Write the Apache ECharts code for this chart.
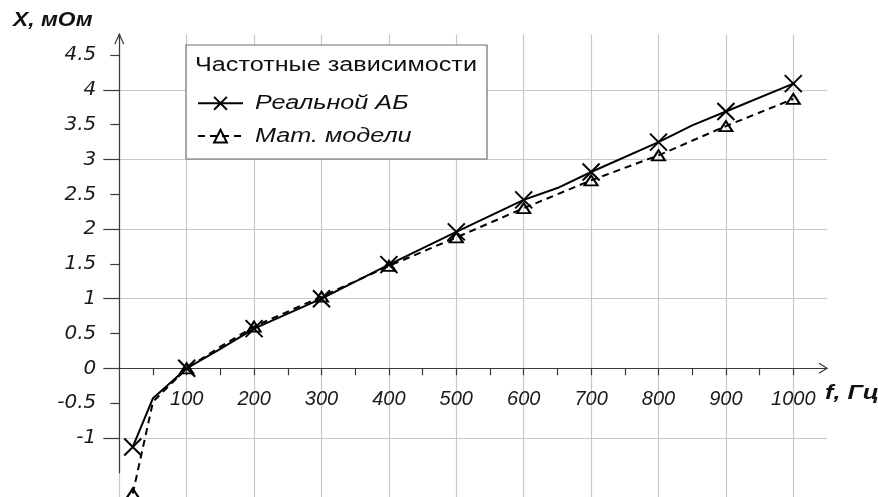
<!DOCTYPE html>
<html><head><meta charset="utf-8">
<script src="https://cdn.jsdelivr.net/npm/echarts@6/dist/echarts.min.js"></script>
<style>html,body{margin:0;padding:0;background:#fff}#c{width:878px;height:497px}</style>
</head><body><div id="c"></div>
<script>
// ---- data ----
const seriesNames = ['Реальной АБ', 'Мат. модели'];
const legendTitle = 'Частотные зависимости';
const yName = 'X, мОм';
const xName = 'f, Гц';
const freqReal = [20, 50, 100, 150, 200, 300, 400, 500, 600, 650, 700, 800, 850, 900, 1000];
const xReal    = [-1.13, -0.43, 0, 0.28, 0.57, 1.0, 1.49, 1.96, 2.42, 2.59, 2.82, 3.25, 3.49, 3.69, 4.09];
const freqModel = [20, 50, 100, 150, 200, 300, 400, 500, 600, 700, 800, 900, 1000];
const xModel    = [-1.8, -0.48, 0, 0.31, 0.6, 1.03, 1.47, 1.88, 2.3, 2.7, 3.06, 3.48, 3.87];
const markedFreqs = [20, 100, 200, 300, 400, 500, 600, 700, 800, 900, 1000];
const xTickLabels = [100, 200, 300, 400, 500, 600, 700, 800, 900, 1000];
const xMinorTicks = [50, 100, 150, 200, 250, 300, 350, 400, 450, 500, 550, 600, 650, 700, 750, 800, 850, 900, 950, 1000];
const yTickLabels = [-1, -0.5, 0, 0.5, 1, 1.5, 2, 2.5, 3, 3.5, 4, 4.5];
const yHalfTicks = [-0.5, 0.5, 1.5, 2.5, 3.5, 4.5];

// ---- layout ----
const W = 878, H = 497;
const X0 = 119.3, PXX = 0.674;      // px per Hz
const Y0 = 368.3, PXY = 69.6;       // px per unit
const px = f => X0 + f * PXX;
const py = v => Y0 - v * PXY;

const FONT = "'Liberation Sans', Arial, sans-serif";
const AX = '#3a3a3a', GRID = '#c8c8c8';

function build(freqs, vals) {
  return freqs.map((f, i) => markedFreqs.includes(f)
    ? { value: [f, vals[i]] }
    : { value: [f, vals[i]], symbol: 'none' });
}
const gb = { outerBoundsMode: 'none', containLabel: false };
const hidden = { axisLine: { show: false }, axisTick: { show: false }, axisLabel: { show: false }, splitLine: { show: false } };

const chart = echarts.init(document.getElementById('c'), null, { renderer: 'canvas' });
const option = {
  backgroundColor: '#fff',
  animation: false,
  grid: [
    // 0: plotting area (series + y axis)
    Object.assign({ left: X0, right: W - px(1050), top: py(4.8), bottom: H - py(-1.5) }, gb),
    // 1: vertical grid lines
    Object.assign({ left: X0, width: px(1000) - X0, top: py(4.8), bottom: 0 }, gb),
    // 2: horizontal grid lines + long ticks
    Object.assign({ left: X0, right: W - px(1050), top: py(4), height: py(-2) - py(4) }, gb),
    // 3: x axis drawn at y = 0
    Object.assign({ left: X0, right: W - px(1050), top: py(4.8), bottom: H - Y0 }, gb)
  ],
  xAxis: [
    Object.assign({ gridIndex: 0, type: 'value', min: 0, max: 1050 }, hidden),
    Object.assign({ gridIndex: 1, type: 'value', min: 0, max: 1000, interval: 100 }, hidden,
      { splitLine: { show: true, lineStyle: { color: GRID, width: 1.2 } } }),
    Object.assign({ gridIndex: 2, type: 'value', min: 0, max: 1050 }, hidden),
    { gridIndex: 3, type: 'value', min: 0, max: 1050, interval: 50,
      axisLine: { show: true, onZero: false, lineStyle: { color: AX, width: 1.2 } },
      axisTick: { show: true, length: 7, customValues: xMinorTicks, lineStyle: { color: AX, width: 1.2 } },
      axisLabel: { customValues: xTickLabels, formatter: v => String(v), margin: 21, fontSize: 20,
        fontStyle: 'italic', fontFamily: FONT, color: '#1a1a1a' },
      splitLine: { show: false } }
  ],
  yAxis: [
    { gridIndex: 0, type: 'value', min: -1.5, max: 4.8, interval: 0.5,
      axisLine: { show: true, onZero: false, lineStyle: { color: AX, width: 1.2 } },
      axisTick: { show: true, length: 9, customValues: yHalfTicks, lineStyle: { color: AX, width: 1.2 } },
      axisLabel: { customValues: yTickLabels, formatter: v => String(v), margin: 23, fontSize: 20,
        fontStyle: 'italic', fontFamily: "'DejaVu Sans', sans-serif", color: '#1a1a1a' },
      splitLine: { show: false } },
    Object.assign({ gridIndex: 1, type: 'value', min: 0, max: 1 }, hidden),
    { gridIndex: 2, type: 'value', min: -2, max: 4, interval: 1,
      axisLine: { show: false },
      axisTick: { show: true, length: 16, lineStyle: { color: AX, width: 1.2 } },
      axisLabel: { show: false },
      splitLine: { show: true, lineStyle: { color: GRID, width: 1.2 } } },
    Object.assign({ gridIndex: 3, type: 'value', min: 0, max: 4.8 }, hidden)
  ],
  legend: {
    orient: 'vertical', left: 197, top: 95.3, padding: 0, itemGap: 17.4,
    itemWidth: 45, itemHeight: 16, z: 10,
    data: seriesNames,
    formatter: () => '',
    textStyle: { fontSize: 10 }
  },
  series: [
    { name: seriesNames[0], type: 'line', xAxisIndex: 0, yAxisIndex: 0, z: 5, clip: false,
      symbol: 'path://M0,0L10,10M10,0L0,10', symbolSize: 17, symbolKeepAspect: true,
      lineStyle: { color: '#000', width: 2, type: 'solid' },
      itemStyle: { color: 'rgba(0,0,0,0)', borderColor: '#000', borderWidth: 2 },
      data: build(freqReal, xReal) },
    { name: seriesNames[1], type: 'line', xAxisIndex: 0, yAxisIndex: 0, z: 4, clip: false,
      symbol: 'triangle', symbolSize: [13, 10],
      lineStyle: { color: '#000', width: 2, type: [7, 5] },
      itemStyle: { color: 'rgba(0,0,0,0)', borderColor: '#000', borderWidth: 2 },
      data: build(freqModel, xModel) }
  ],
  graphic: [
    { type: 'rect', z: 3, shape: { x: 186, y: 45, width: 301, height: 114 },
      style: { fill: '#fff', stroke: '#6e6e6e', lineWidth: 1.2 } },
    { type: 'text', z: 11, x: 195, y: 65, scaleX: 1.26,
      style: { text: legendTitle, font: '20px ' + FONT, fill: '#111', verticalAlign: 'middle' } },
    { type: 'text', z: 11, x: 255, y: 103.3, scaleX: 1.26,
      style: { text: seriesNames[0], font: 'italic 20px ' + FONT, fill: '#111', verticalAlign: 'middle' } },
    { type: 'text', z: 11, x: 255, y: 136.7, scaleX: 1.26,
      style: { text: seriesNames[1], font: 'italic 20px ' + FONT, fill: '#111', verticalAlign: 'middle' } },
    { type: 'text', z: 11, x: 13, y: 20, scaleX: 1.14,
      style: { text: yName, font: 'italic bold 20px ' + FONT, fill: '#111', verticalAlign: 'middle' } },
    { type: 'text', z: 11, x: 825, y: 393, scaleX: 1.26,
      style: { text: xName, font: 'italic bold 20px ' + FONT, fill: '#111', verticalAlign: 'middle' } },
    { type: 'polyline', z: 6, shape: { points: [[px(1050) - 8, Y0 - 5], [px(1050), Y0], [px(1050) - 8, Y0 + 5]] },
      style: { stroke: AX, lineWidth: 1.2, fill: null } },
    { type: 'polyline', z: 6, shape: { points: [[X0 - 4.5, py(4.8) + 10], [X0, py(4.8)], [X0 + 4.5, py(4.8) + 10]] },
      style: { stroke: AX, lineWidth: 1.2, fill: null } }
  ]
};
chart.setOption(option);
</script>
</body></html>
